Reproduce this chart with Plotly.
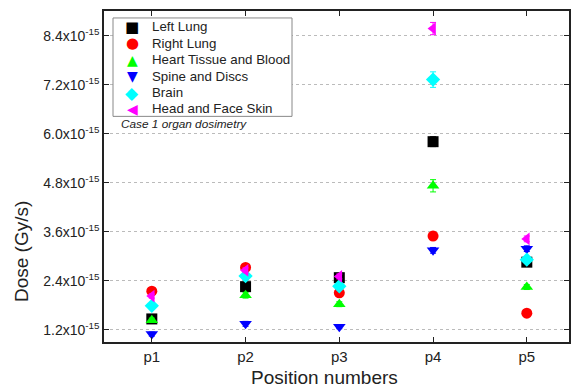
import plotly.graph_objects as go

positions = ["p1", "p2", "p3", "p4", "p5"]
pos_index = [1, 2, 3, 4, 5]

# Dose rates in units of 1e-15 Gy/s
left_lung = [1.47, 2.26, 2.48, 5.81, 2.86]
right_lung = [2.15, 2.73, 2.11, 3.50, 1.61]
heart = [1.44, 2.05, 1.83, 4.73, 2.25]
spine = [1.10, 1.35, 1.28, 3.15, 3.19]
brain = [1.79, 2.52, 2.27, 7.33, 2.92]
head_skin = [2.03, 2.66, 2.51, 8.58, 3.43]

# Uncertainties in units of 1e-15 Gy/s
left_lung_err = [0.05, 0.07, 0.07, 0.12, 0.07]
right_lung_err = [0.05, 0.06, 0.05, 0.07, 0.04]
heart_err = [0.05, 0.07, 0.06, 0.15, 0.06]
spine_err = [0.05, 0.06, 0.05, 0.07, 0.07]
brain_err = [0.05, 0.06, 0.06, 0.19, 0.07]
head_skin_err = [0.05, 0.06, 0.06, 0.15, 0.07]

ytick_vals = [1.2, 2.4, 3.6, 4.8, 6.0, 7.2, 8.4]
ytick_text = [f"{v:.1f}x10<sup>-15</sup>" for v in ytick_vals]

SCALE = 1e-15

# name, values, errors, colour, marker symbol, legend glyph, glyph size
series = [
    ("Left Lung", left_lung, left_lung_err, "#000000", "square", "\u25A0", 15),
    ("Right Lung", right_lung, right_lung_err, "#ff0000", "circle", "\u25CF", 15),
    ("Heart Tissue and Blood", heart, heart_err, "#00ff00", "triangle-up", "\u25B2", 14),
    ("Spine and Discs", spine, spine_err, "#0000ff", "triangle-down", "\u25BC", 14),
    ("Brain", brain, brain_err, "#00ffff", "diamond", "\u25C6", 17),
    ("Head and Face Skin", head_skin, head_skin_err, "#ff00ff", "triangle-left", "\u25C0", 14),
]

W, H = 580, 390
ML, MR, MT, MB = 104, 11, 9, 48
PW, PH = W - ML - MR, H - MT - MB
font_family = "Liberation Sans, Arial, sans-serif"
ink = "#222222"

xrange = [0.49, 5.45]
yrange = [0.905 * SCALE, 9.01 * SCALE]

fig = go.Figure()
for name, vals, errs, color, symbol, _, _ in series:
    fig.add_trace(go.Scatter(
        x=pos_index,
        y=[v * SCALE for v in vals],
        error_y=dict(type="data", array=[e * SCALE for e in errs],
                     color=color, thickness=1, width=3),
        mode="markers",
        name=name,
        showlegend=False,
        marker=dict(color=color, symbol=symbol, size=11, line=dict(width=0)),
    ))

# Boxed legend laid out in pixels from the figure's top-left corner
legend_box = (113, 16, 292, 115)
legend_key_x, legend_text_x = 132, 150
legend_row_y = [25, 41.5, 58, 74.5, 91, 107.5]


def frac_x(px):
    return (px - ML) / PW


def frac_y(py):
    return 1 - (py - MT) / PH


fig.add_shape(type="rect", xref="paper", yref="paper",
              x0=frac_x(legend_box[0]), y0=frac_y(legend_box[3]),
              x1=frac_x(legend_box[2]), y1=frac_y(legend_box[1]),
              line=dict(color="#888888", width=1), fillcolor="white",
              layer="above")

annotations = []
for (name, _, _, color, _, glyph, gsize), ry in zip(series, legend_row_y):
    annotations.append(dict(
        text=glyph, xref="paper", yref="paper",
        x=frac_x(legend_key_x), y=frac_y(ry),
        xanchor="center", yanchor="middle", showarrow=False,
        font=dict(family="DejaVu Sans", size=gsize, color=color),
    ))
    annotations.append(dict(
        text=name, xref="paper", yref="paper",
        x=frac_x(legend_text_x), y=frac_y(ry),
        xanchor="left", yanchor="middle", showarrow=False,
        font=dict(size=13.3, color=ink),
    ))
annotations += [
    dict(text="<i>Case 1 organ dosimetry</i>", xref="paper", yref="paper",
         x=frac_x(119), y=frac_y(123), xanchor="left", yanchor="middle",
         showarrow=False, font=dict(size=11.8, color=ink)),
    dict(text="Position numbers", xref="paper", yref="paper",
         x=frac_x(324), y=0, yshift=-MB, xanchor="center", yanchor="bottom",
         showarrow=False, font=dict(size=19, color=ink)),
    dict(text="Dose (Gy/s)", xref="paper", yref="paper", x=0, xshift=-ML + 9,
         y=frac_y(251), xanchor="left", yanchor="middle", textangle=-90,
         showarrow=False, font=dict(size=19, color=ink)),
]

axis_common = dict(
    ticks="inside", ticklen=5, tickwidth=1.2, tickcolor=ink,
    showline=True, linecolor=ink, linewidth=1.5, mirror="ticks",
    zeroline=False,
)

fig.update_layout(
    width=W, height=H,
    margin=dict(l=ML, r=MR, t=MT, b=MB),
    paper_bgcolor="white", plot_bgcolor="white",
    font=dict(family=font_family, color=ink),
    showlegend=False,
    xaxis=dict(
        range=xrange, tickvals=pos_index, ticktext=positions,
        showgrid=False, tickfont=dict(size=15), **axis_common,
    ),
    yaxis=dict(
        range=yrange,
        tickvals=[v * SCALE for v in ytick_vals], ticktext=ytick_text,
        showgrid=True, gridcolor="#bbbbbb", griddash="dot", gridwidth=1,
        tickfont=dict(size=14), **axis_common,
    ),
    annotations=annotations,
)

fig.write_html("out.html")
